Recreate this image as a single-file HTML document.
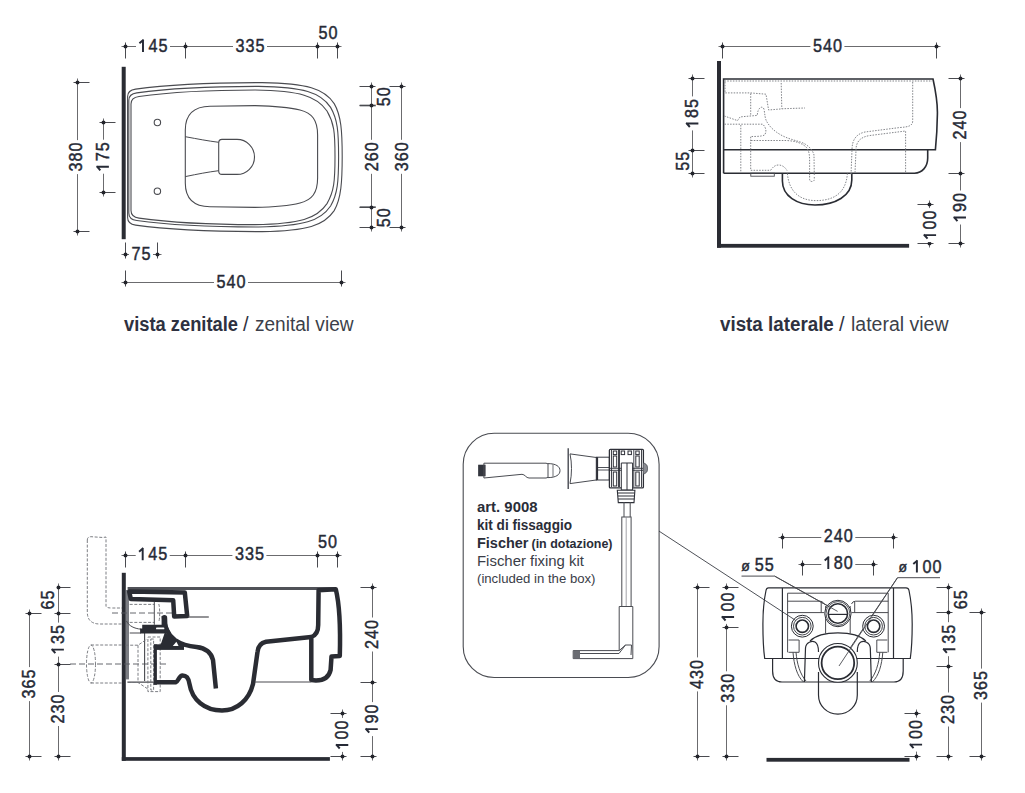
<!DOCTYPE html>
<html><head><meta charset="utf-8"><style>
html,body{margin:0;padding:0;background:#fff;}
svg{display:block;}
.n{font-family:"Liberation Sans",sans-serif;fill:#262a36;stroke:#262a36;stroke-width:0.45px;}
.n2{font-family:"Liberation Sans",sans-serif;fill:#262a36;stroke:#262a36;stroke-width:0.4px;}
.cap{font-family:"Liberation Sans",sans-serif;fill:#2e3140;font-size:20px;}
.ins{font-family:"Liberation Sans",sans-serif;fill:#2a2d38;}
</style></head><body>
<svg width="1025" height="793" viewBox="0 0 1025 793">
<line x1="121.5" y1="46.5" x2="341.5" y2="46.5" stroke="#6b6b6e" stroke-width="1"/>
<line x1="125.5" y1="42.5" x2="125.5" y2="58.5" stroke="#4a4b50" stroke-width="1"/>
<circle cx="125.5" cy="46.5" r="1.95" fill="#23252c"/>
<line x1="185.5" y1="42.5" x2="185.5" y2="58.5" stroke="#4a4b50" stroke-width="1"/>
<circle cx="185.5" cy="46.5" r="1.95" fill="#23252c"/>
<line x1="317.5" y1="42.5" x2="317.5" y2="58.5" stroke="#4a4b50" stroke-width="1"/>
<circle cx="317.5" cy="46.5" r="1.95" fill="#23252c"/>
<line x1="337.5" y1="42.5" x2="337.5" y2="58.5" stroke="#4a4b50" stroke-width="1"/>
<circle cx="337.5" cy="46.5" r="1.95" fill="#23252c"/>
<g transform="translate(153,45.4)"><rect x="-17.0" y="-7.5" width="34.0" height="15.0" fill="#fff"/><path d="M -10.01,6.48 L -10.01,-5.91 M -9.41,-5.71 L -13.61,-2.07" stroke="#262a36" stroke-width="1.94" fill="none"/><text class="n" x="0.00" y="6.5" transform="scale(0.9,1)" text-anchor="middle" font-size="18">4</text><text class="n" x="11.12" y="6.5" transform="scale(0.9,1)" text-anchor="middle" font-size="18">5</text></g>
<g transform="translate(250,45.4)"><rect x="-17.0" y="-7.5" width="34.0" height="15.0" fill="#fff"/><text class="n" x="-11.12" y="6.5" transform="scale(0.9,1)" text-anchor="middle" font-size="18">3</text><text class="n" x="0.00" y="6.5" transform="scale(0.9,1)" text-anchor="middle" font-size="18">3</text><text class="n" x="11.12" y="6.5" transform="scale(0.9,1)" text-anchor="middle" font-size="18">5</text></g>
<g transform="translate(328.1,32.3)"><text class="n" x="-5.56" y="6.5" transform="scale(0.9,1)" text-anchor="middle" font-size="18">5</text><text class="n" x="5.56" y="6.5" transform="scale(0.9,1)" text-anchor="middle" font-size="18">0</text></g>
<rect x="121.7" y="66.8" width="4" height="172.4" fill="#2a2c33"/>
<line x1="77.5" y1="78.5" x2="77.5" y2="235.5" stroke="#6b6b6e" stroke-width="1"/>
<line x1="73.5" y1="82.5" x2="89.5" y2="82.5" stroke="#4a4b50" stroke-width="1"/>
<circle cx="77.5" cy="82.5" r="1.95" fill="#23252c"/>
<line x1="73.5" y1="231.5" x2="89.5" y2="231.5" stroke="#4a4b50" stroke-width="1"/>
<circle cx="77.5" cy="231.5" r="1.95" fill="#23252c"/>
<g transform="translate(75.8,157.1) rotate(-90)"><rect x="-17.0" y="-7.5" width="34.0" height="15.0" fill="#fff"/><text class="n" x="-11.12" y="6.5" transform="scale(0.9,1)" text-anchor="middle" font-size="18">3</text><text class="n" x="0.00" y="6.5" transform="scale(0.9,1)" text-anchor="middle" font-size="18">8</text><text class="n" x="11.12" y="6.5" transform="scale(0.9,1)" text-anchor="middle" font-size="18">0</text></g>
<line x1="103.5" y1="118.5" x2="103.5" y2="196.5" stroke="#6b6b6e" stroke-width="1"/>
<line x1="99.5" y1="122.5" x2="115.5" y2="122.5" stroke="#4a4b50" stroke-width="1"/>
<circle cx="103.5" cy="122.5" r="1.95" fill="#23252c"/>
<line x1="99.5" y1="192.5" x2="115.5" y2="192.5" stroke="#4a4b50" stroke-width="1"/>
<circle cx="103.5" cy="192.5" r="1.95" fill="#23252c"/>
<g transform="translate(102.4,156.7) rotate(-90)"><rect x="-17.0" y="-7.5" width="34.0" height="15.0" fill="#fff"/><path d="M -10.01,6.48 L -10.01,-5.91 M -9.41,-5.71 L -13.61,-2.07" stroke="#262a36" stroke-width="1.94" fill="none"/><text class="n" x="0.00" y="6.5" transform="scale(0.9,1)" text-anchor="middle" font-size="18">7</text><text class="n" x="11.12" y="6.5" transform="scale(0.9,1)" text-anchor="middle" font-size="18">5</text></g>
<line x1="121.5" y1="254.5" x2="161.5" y2="254.5" stroke="#6b6b6e" stroke-width="1"/>
<line x1="125.5" y1="242.5" x2="125.5" y2="258.5" stroke="#4a4b50" stroke-width="1"/>
<circle cx="125.5" cy="254.5" r="1.95" fill="#23252c"/>
<line x1="157.5" y1="242.5" x2="157.5" y2="258.5" stroke="#4a4b50" stroke-width="1"/>
<circle cx="157.5" cy="254.5" r="1.95" fill="#23252c"/>
<g transform="translate(141,253.2)"><rect x="-12.0" y="-7.5" width="24.0" height="15.0" fill="#fff"/><text class="n" x="-5.56" y="6.5" transform="scale(0.9,1)" text-anchor="middle" font-size="18">7</text><text class="n" x="5.56" y="6.5" transform="scale(0.9,1)" text-anchor="middle" font-size="18">5</text></g>
<line x1="121.5" y1="282.5" x2="345.5" y2="282.5" stroke="#6b6b6e" stroke-width="1"/>
<line x1="125.5" y1="270.5" x2="125.5" y2="286.5" stroke="#4a4b50" stroke-width="1"/>
<circle cx="125.5" cy="282.5" r="1.95" fill="#23252c"/>
<line x1="341.5" y1="270.5" x2="341.5" y2="286.5" stroke="#4a4b50" stroke-width="1"/>
<circle cx="341.5" cy="282.5" r="1.95" fill="#23252c"/>
<g transform="translate(231,281.4)"><rect x="-17.0" y="-7.5" width="34.0" height="15.0" fill="#fff"/><text class="n" x="-11.12" y="6.5" transform="scale(0.9,1)" text-anchor="middle" font-size="18">5</text><text class="n" x="0.00" y="6.5" transform="scale(0.9,1)" text-anchor="middle" font-size="18">4</text><text class="n" x="11.12" y="6.5" transform="scale(0.9,1)" text-anchor="middle" font-size="18">0</text></g>
<path d="M 359.7,105.4 L 375.8,105.4 M 359.7,207.1 L 375.8,207.1" stroke="#8a8c90" stroke-width="2"/>
<line x1="371.5" y1="82.5" x2="371.5" y2="231.5" stroke="#6b6b6e" stroke-width="1"/>
<line x1="359.5" y1="86.5" x2="375.5" y2="86.5" stroke="#4a4b50" stroke-width="1"/>
<circle cx="371.5" cy="86.5" r="1.95" fill="#23252c"/>
<line x1="359.5" y1="105.5" x2="375.5" y2="105.5" stroke="#4a4b50" stroke-width="1"/>
<circle cx="371.5" cy="105.5" r="1.95" fill="#23252c"/>
<line x1="359.5" y1="207.5" x2="375.5" y2="207.5" stroke="#4a4b50" stroke-width="1"/>
<circle cx="371.5" cy="207.5" r="1.95" fill="#23252c"/>
<line x1="359.5" y1="227.5" x2="375.5" y2="227.5" stroke="#4a4b50" stroke-width="1"/>
<circle cx="371.5" cy="227.5" r="1.95" fill="#23252c"/>
<line x1="401.5" y1="82.5" x2="401.5" y2="231.5" stroke="#6b6b6e" stroke-width="1"/>
<line x1="389.5" y1="86.5" x2="405.5" y2="86.5" stroke="#4a4b50" stroke-width="1"/>
<circle cx="401.5" cy="86.5" r="1.95" fill="#23252c"/>
<line x1="389.5" y1="227.5" x2="405.5" y2="227.5" stroke="#4a4b50" stroke-width="1"/>
<circle cx="401.5" cy="227.5" r="1.95" fill="#23252c"/>
<g transform="translate(383.8,96.8) rotate(-90)"><text class="n" x="-5.56" y="6.5" transform="scale(0.9,1)" text-anchor="middle" font-size="18">5</text><text class="n" x="5.56" y="6.5" transform="scale(0.9,1)" text-anchor="middle" font-size="18">0</text></g>
<g transform="translate(383.8,217.8) rotate(-90)"><text class="n" x="-5.56" y="6.5" transform="scale(0.9,1)" text-anchor="middle" font-size="18">5</text><text class="n" x="5.56" y="6.5" transform="scale(0.9,1)" text-anchor="middle" font-size="18">0</text></g>
<g transform="translate(371.8,156.8) rotate(-90)"><rect x="-17.0" y="-7.5" width="34.0" height="15.0" fill="#fff"/><text class="n" x="-11.12" y="6.5" transform="scale(0.9,1)" text-anchor="middle" font-size="18">2</text><text class="n" x="0.00" y="6.5" transform="scale(0.9,1)" text-anchor="middle" font-size="18">6</text><text class="n" x="11.12" y="6.5" transform="scale(0.9,1)" text-anchor="middle" font-size="18">0</text></g>
<g transform="translate(401.4,156.8) rotate(-90)"><rect x="-17.0" y="-7.5" width="34.0" height="15.0" fill="#fff"/><text class="n" x="-11.12" y="6.5" transform="scale(0.9,1)" text-anchor="middle" font-size="18">3</text><text class="n" x="0.00" y="6.5" transform="scale(0.9,1)" text-anchor="middle" font-size="18">6</text><text class="n" x="11.12" y="6.5" transform="scale(0.9,1)" text-anchor="middle" font-size="18">0</text></g>
<path d="M 127.6,156.5 L 127.6,96.6 Q 127.6,90.1 135.6,89.1 C 167.6,84.6 207.6,82.6 262.2,82.6 C 307.2,83.39999999999999 324.2,88.6 334.2,103.6 C 341.2,115.6 342.2,131.5 342.2,156.5 C 342.2,181.5 341.2,198.6 334.2,210.6 C 324.2,225.6 307.2,230.79999999999998 262.2,231.6 C 207.6,231.6 167.6,229.6 135.6,225.1 Q 127.6,224.1 127.6,217.6 Z" fill="none" stroke="#4a4b50" stroke-width="1.1"/>
<path d="M 128.8,156.5 L 128.8,100.4 Q 128.8,93.9 136.8,92.9 C 168.8,88.4 208.8,86.4 258.6,86.4 C 303.6,87.2 320.6,92.4 330.6,107.4 C 337.6,119.4 338.6,131.5 338.6,156.5 C 338.6,181.5 337.6,194.0 330.6,206.0 C 320.6,221.0 303.6,226.2 258.6,227.0 C 208.8,227.0 168.8,225.0 136.8,220.5 Q 128.8,219.5 128.8,213.0 Z" fill="none" stroke="#4a4b50" stroke-width="1.1"/>
<path d="M 131.0,156.5 L 131.0,104.0 Q 131.0,97.5 139.0,96.5 C 171.0,92.0 211.0,90.0 255.0,90.0 C 300.0,90.8 317.0,96.0 327.0,111.0 C 334.0,123.0 335.0,131.5 335.0,156.5 C 335.0,181.5 334.0,191.6 327.0,203.6 C 317.0,218.6 300.0,223.79999999999998 255.0,224.6 C 211.0,224.6 171.0,222.6 139.0,218.1 Q 131.0,217.1 131.0,210.6 Z" fill="none" stroke="#4a4b50" stroke-width="1.1"/>
<path d="M 185.3,130 C 185.3,114 194,106.5 210,106.2 L 255,105.6 C 275,106 290,107.5 300,110 C 312,113 317.6,120 317.6,135 L 317.6,178 C 317.6,193 312,200 300,203 C 290,205.5 275,207 255,207.4 L 210,206.8 C 194,206.5 185.3,199 185.3,183 Z" fill="none" stroke="#4a4b50" stroke-width="1.1"/>
<path d="M 222,139.4 L 237,139.4 A 17.5 17.5 0 0 1 237,174.4 L 222,174.4 Q 218.7,174.4 218.7,171 L 218.7,143 Q 218.7,139.4 222,139.4 Z" fill="none" stroke="#4a4b50" stroke-width="1.1"/>
<path d="M 185.3,136.7 C 198,139 208,141 218.7,142.3 M 185.3,176.6 C 198,174 208,172 218.7,170.7" fill="none" stroke="#4a4b50" stroke-width="1"/>
<circle cx="157.4" cy="122.5" r="3.2" fill="none" stroke="#4a4b50" stroke-width="1.1"/>
<circle cx="157.4" cy="191.2" r="3.2" fill="none" stroke="#4a4b50" stroke-width="1.1"/>
<text x="124" y="331" class="cap" font-weight="bold" textLength="114" lengthAdjust="spacingAndGlyphs">vista zenitale</text>
<text x="243" y="331" class="cap">/</text>
<text x="255" y="331" class="cap" style="fill:#3c3f4a" textLength="98.5" lengthAdjust="spacingAndGlyphs">zenital view</text>
<text x="720" y="331" class="cap" font-weight="bold" textLength="113.8" lengthAdjust="spacingAndGlyphs">vista laterale</text>
<text x="839" y="331" class="cap">/</text>
<text x="851" y="331" class="cap" style="fill:#3c3f4a" textLength="97.5" lengthAdjust="spacingAndGlyphs">lateral view</text>
<line x1="718.5" y1="46.5" x2="940.5" y2="46.5" stroke="#6b6b6e" stroke-width="1"/>
<line x1="722.5" y1="42.5" x2="722.5" y2="58.5" stroke="#4a4b50" stroke-width="1"/>
<circle cx="722.5" cy="46.5" r="1.95" fill="#23252c"/>
<line x1="936.5" y1="42.5" x2="936.5" y2="58.5" stroke="#4a4b50" stroke-width="1"/>
<circle cx="936.5" cy="46.5" r="1.95" fill="#23252c"/>
<g transform="translate(827.4,45.6)"><rect x="-17.0" y="-7.5" width="34.0" height="15.0" fill="#fff"/><text class="n" x="-11.12" y="6.5" transform="scale(0.9,1)" text-anchor="middle" font-size="18">5</text><text class="n" x="0.00" y="6.5" transform="scale(0.9,1)" text-anchor="middle" font-size="18">4</text><text class="n" x="11.12" y="6.5" transform="scale(0.9,1)" text-anchor="middle" font-size="18">0</text></g>
<rect x="717" y="61" width="4" height="186.7" fill="#2a2c33"/>
<rect x="717" y="243.9" width="192.1" height="3.8" fill="#2a2c33"/>
<line x1="692.5" y1="74.5" x2="692.5" y2="177.5" stroke="#6b6b6e" stroke-width="1"/>
<line x1="688.5" y1="78.5" x2="704.5" y2="78.5" stroke="#4a4b50" stroke-width="1"/>
<circle cx="692.5" cy="78.5" r="1.95" fill="#23252c"/>
<line x1="688.5" y1="150.5" x2="704.5" y2="150.5" stroke="#4a4b50" stroke-width="1"/>
<circle cx="692.5" cy="150.5" r="1.95" fill="#23252c"/>
<line x1="688.5" y1="173.5" x2="704.5" y2="173.5" stroke="#4a4b50" stroke-width="1"/>
<circle cx="692.5" cy="173.5" r="1.95" fill="#23252c"/>
<g transform="translate(691.9,113.4) rotate(-90)"><rect x="-17.0" y="-7.5" width="34.0" height="15.0" fill="#fff"/><path d="M -10.01,6.48 L -10.01,-5.91 M -9.41,-5.71 L -13.61,-2.07" stroke="#262a36" stroke-width="1.94" fill="none"/><text class="n" x="0.00" y="6.5" transform="scale(0.9,1)" text-anchor="middle" font-size="18">8</text><text class="n" x="11.12" y="6.5" transform="scale(0.9,1)" text-anchor="middle" font-size="18">5</text></g>
<g transform="translate(682.5,161.3) rotate(-90)"><text class="n" x="-5.56" y="6.5" transform="scale(0.9,1)" text-anchor="middle" font-size="18">5</text><text class="n" x="5.56" y="6.5" transform="scale(0.9,1)" text-anchor="middle" font-size="18">5</text></g>
<line x1="960.5" y1="74.5" x2="960.5" y2="247.5" stroke="#6b6b6e" stroke-width="1"/>
<line x1="948.5" y1="78.5" x2="964.5" y2="78.5" stroke="#4a4b50" stroke-width="1"/>
<circle cx="960.5" cy="78.5" r="1.95" fill="#23252c"/>
<line x1="948.5" y1="173.5" x2="964.5" y2="173.5" stroke="#4a4b50" stroke-width="1"/>
<circle cx="960.5" cy="173.5" r="1.95" fill="#23252c"/>
<line x1="948.5" y1="243.5" x2="964.5" y2="243.5" stroke="#4a4b50" stroke-width="1"/>
<circle cx="960.5" cy="243.5" r="1.95" fill="#23252c"/>
<g transform="translate(959.5,125.1) rotate(-90)"><rect x="-17.0" y="-7.5" width="34.0" height="15.0" fill="#fff"/><text class="n" x="-11.12" y="6.5" transform="scale(0.9,1)" text-anchor="middle" font-size="18">2</text><text class="n" x="0.00" y="6.5" transform="scale(0.9,1)" text-anchor="middle" font-size="18">4</text><text class="n" x="11.12" y="6.5" transform="scale(0.9,1)" text-anchor="middle" font-size="18">0</text></g>
<g transform="translate(959.5,207.5) rotate(-90)"><rect x="-17.0" y="-7.5" width="34.0" height="15.0" fill="#fff"/><path d="M -10.01,6.48 L -10.01,-5.91 M -9.41,-5.71 L -13.61,-2.07" stroke="#262a36" stroke-width="1.94" fill="none"/><text class="n" x="0.00" y="6.5" transform="scale(0.9,1)" text-anchor="middle" font-size="18">9</text><text class="n" x="11.12" y="6.5" transform="scale(0.9,1)" text-anchor="middle" font-size="18">0</text></g>
<line x1="929.5" y1="200.5" x2="929.5" y2="247.5" stroke="#6b6b6e" stroke-width="1"/>
<line x1="917.5" y1="204.5" x2="933.5" y2="204.5" stroke="#4a4b50" stroke-width="1"/>
<circle cx="929.5" cy="204.5" r="1.95" fill="#23252c"/>
<line x1="917.5" y1="243.5" x2="933.5" y2="243.5" stroke="#4a4b50" stroke-width="1"/>
<circle cx="929.5" cy="243.5" r="1.95" fill="#23252c"/>
<g transform="translate(929.6,225.1) rotate(-90)"><rect x="-17.0" y="-7.5" width="34.0" height="15.0" fill="#fff"/><path d="M -10.01,6.48 L -10.01,-5.91 M -9.41,-5.71 L -13.61,-2.07" stroke="#262a36" stroke-width="1.94" fill="none"/><text class="n" x="0.00" y="6.5" transform="scale(0.9,1)" text-anchor="middle" font-size="18">0</text><text class="n" x="11.12" y="6.5" transform="scale(0.9,1)" text-anchor="middle" font-size="18">0</text></g>
<path d="M 723.6,173.2 L 723.6,79 L 933,79 C 936.5,95 937.6,105 937.4,114 C 937.2,128 936.4,140 935.4,149.8 L 723.6,149.8" fill="none" stroke="#2a2c33" stroke-width="1.6"/>
<path d="M 927.7,149.8 L 927.7,158 C 927.7,167 922,173 914.5,173.2 L 723.6,173.2" fill="none" stroke="#2a2c33" stroke-width="1.6"/>
<path d="M 782.4,173.2 L 782.4,181 C 782.4,196 797,205 815,205 C 835,205 851.8,196 851.8,180 L 851.8,173.2" fill="none" stroke="#2a2c33" stroke-width="1.6"/>
<rect x="750.8" y="173.2" width="23.5" height="3" fill="none" stroke="#4a4b50" stroke-width="0.9"/>
<path d="M 724.5,81 L 932,81" fill="none" stroke="#7c7e84" stroke-width="0.95" stroke-dasharray="1.5 1.3"/>
<path d="M 725,82 L 725,92.9 L 750.2,92.9 L 766,94.2 L 768.6,110 L 783.8,108.7 L 805,108" fill="none" stroke="#7c7e84" stroke-width="0.95" stroke-dasharray="1.5 1.3"/>
<path d="M 781.2,83 L 781.8,108.7" fill="none" stroke="#7c7e84" stroke-width="0.95" stroke-dasharray="1.5 1.3"/>
<path d="M 750.7,93.5 L 750.7,115.4" fill="none" stroke="#7c7e84" stroke-width="0.95" stroke-dasharray="1.5 1.3"/>
<path d="M 724.3,116 L 737.5,120.6 L 740.1,116.9 L 757.3,115.4 C 757.5,108 762,105 764,109 C 765,115 765,119 767,122 C 770,127 774,131 781,135 C 790,140 800,141 805,144 C 810,147 813,151 814,155 L 814.3,176" fill="none" stroke="#7c7e84" stroke-width="0.95" stroke-dasharray="1.5 1.3"/>
<path d="M 724.5,124.2 L 762.6,124.2 C 766,127 767,132 764.5,135 C 762,136.5 755,136.5 750.7,136.5 L 750.7,170.3 L 770.6,170.3 C 773,167 775,165 778.5,165 C 782,165 785,167 787,170.5" fill="none" stroke="#7c7e84" stroke-width="0.95" stroke-dasharray="1.5 1.3"/>
<path d="M 740.8,125 L 740.8,171.6" fill="none" stroke="#7c7e84" stroke-width="0.95" stroke-dasharray="1.5 1.3"/>
<path d="M 751,140.5 L 786.5,140.5 C 795,141 802,143 806,147 C 809,150 809.6,155 809.6,160 L 809.6,176" fill="none" stroke="#7c7e84" stroke-width="0.95" stroke-dasharray="1.5 1.3"/>
<path d="M 912.7,82 L 912.7,121 C 912.7,126 908,127 900,127.5 L 865,132 C 856,134 852,140 852,150 L 851,175" fill="none" stroke="#7c7e84" stroke-width="0.95" stroke-dasharray="1.5 1.3"/>
<path d="M 905.6,172 L 905.6,131 L 870,135.5 C 860,137 856,142 856,150 L 855,173" fill="none" stroke="#7c7e84" stroke-width="0.95" stroke-dasharray="1.5 1.3"/>
<path d="M 787.4,173.5 C 789,192 800,200.6 816,200.6 C 834,200.6 846,193 847.4,173.5" fill="none" stroke="#7c7e84" stroke-width="0.95" stroke-dasharray="1.5 1.3"/>
<path d="M 809.6,176 L 809.6,179 Q 809.6,181.5 812,181.5 Q 814.3,181.5 814.3,179 L 814.3,176" fill="none" stroke="#7c7e84" stroke-width="0.95" stroke-dasharray="1.5 1.3"/>
<line x1="121.5" y1="555.5" x2="341.5" y2="555.5" stroke="#6b6b6e" stroke-width="1"/>
<line x1="125.5" y1="551.5" x2="125.5" y2="567.5" stroke="#4a4b50" stroke-width="1"/>
<circle cx="125.5" cy="555.5" r="1.95" fill="#23252c"/>
<line x1="185.5" y1="551.5" x2="185.5" y2="567.5" stroke="#4a4b50" stroke-width="1"/>
<circle cx="185.5" cy="555.5" r="1.95" fill="#23252c"/>
<line x1="317.5" y1="551.5" x2="317.5" y2="567.5" stroke="#4a4b50" stroke-width="1"/>
<circle cx="317.5" cy="555.5" r="1.95" fill="#23252c"/>
<line x1="337.5" y1="551.5" x2="337.5" y2="567.5" stroke="#4a4b50" stroke-width="1"/>
<circle cx="337.5" cy="555.5" r="1.95" fill="#23252c"/>
<g transform="translate(152.7,553.8)"><rect x="-17.0" y="-7.5" width="34.0" height="15.0" fill="#fff"/><path d="M -10.01,6.48 L -10.01,-5.91 M -9.41,-5.71 L -13.61,-2.07" stroke="#262a36" stroke-width="1.94" fill="none"/><text class="n" x="0.00" y="6.5" transform="scale(0.9,1)" text-anchor="middle" font-size="18">4</text><text class="n" x="11.12" y="6.5" transform="scale(0.9,1)" text-anchor="middle" font-size="18">5</text></g>
<g transform="translate(249.4,553.8)"><rect x="-17.0" y="-7.5" width="34.0" height="15.0" fill="#fff"/><text class="n" x="-11.12" y="6.5" transform="scale(0.9,1)" text-anchor="middle" font-size="18">3</text><text class="n" x="0.00" y="6.5" transform="scale(0.9,1)" text-anchor="middle" font-size="18">3</text><text class="n" x="11.12" y="6.5" transform="scale(0.9,1)" text-anchor="middle" font-size="18">5</text></g>
<g transform="translate(327.4,541.3)"><text class="n" x="-5.56" y="6.5" transform="scale(0.9,1)" text-anchor="middle" font-size="18">5</text><text class="n" x="5.56" y="6.5" transform="scale(0.9,1)" text-anchor="middle" font-size="18">0</text></g>
<rect x="121.8" y="572.8" width="4" height="188" fill="#2a2c33"/>
<rect x="121.8" y="757.1" width="208.1" height="3.7" fill="#2a2c33"/>
<rect x="126" y="590" width="3" height="89.4" fill="#7a7c82"/>
<line x1="372.5" y1="583.5" x2="372.5" y2="760.5" stroke="#6b6b6e" stroke-width="1"/>
<line x1="360.5" y1="587.5" x2="376.5" y2="587.5" stroke="#4a4b50" stroke-width="1"/>
<circle cx="372.5" cy="587.5" r="1.95" fill="#23252c"/>
<line x1="360.5" y1="682.5" x2="376.5" y2="682.5" stroke="#4a4b50" stroke-width="1"/>
<circle cx="372.5" cy="682.5" r="1.95" fill="#23252c"/>
<line x1="360.5" y1="756.5" x2="376.5" y2="756.5" stroke="#4a4b50" stroke-width="1"/>
<circle cx="372.5" cy="756.5" r="1.95" fill="#23252c"/>
<g transform="translate(371.1,634.5) rotate(-90)"><rect x="-17.0" y="-7.5" width="34.0" height="15.0" fill="#fff"/><text class="n" x="-11.12" y="6.5" transform="scale(0.9,1)" text-anchor="middle" font-size="18">2</text><text class="n" x="0.00" y="6.5" transform="scale(0.9,1)" text-anchor="middle" font-size="18">4</text><text class="n" x="11.12" y="6.5" transform="scale(0.9,1)" text-anchor="middle" font-size="18">0</text></g>
<g transform="translate(371.3,719.1) rotate(-90)"><rect x="-17.0" y="-7.5" width="34.0" height="15.0" fill="#fff"/><path d="M -10.01,6.48 L -10.01,-5.91 M -9.41,-5.71 L -13.61,-2.07" stroke="#262a36" stroke-width="1.94" fill="none"/><text class="n" x="0.00" y="6.5" transform="scale(0.9,1)" text-anchor="middle" font-size="18">9</text><text class="n" x="11.12" y="6.5" transform="scale(0.9,1)" text-anchor="middle" font-size="18">0</text></g>
<line x1="342.5" y1="709.5" x2="342.5" y2="760.5" stroke="#6b6b6e" stroke-width="1"/>
<line x1="330.5" y1="713.5" x2="346.5" y2="713.5" stroke="#4a4b50" stroke-width="1"/>
<circle cx="342.5" cy="713.5" r="1.95" fill="#23252c"/>
<line x1="330.5" y1="756.5" x2="346.5" y2="756.5" stroke="#4a4b50" stroke-width="1"/>
<circle cx="342.5" cy="756.5" r="1.95" fill="#23252c"/>
<g transform="translate(341.8,734.9) rotate(-90)"><rect x="-17.0" y="-7.5" width="34.0" height="15.0" fill="#fff"/><path d="M -10.01,6.48 L -10.01,-5.91 M -9.41,-5.71 L -13.61,-2.07" stroke="#262a36" stroke-width="1.94" fill="none"/><text class="n" x="0.00" y="6.5" transform="scale(0.9,1)" text-anchor="middle" font-size="18">0</text><text class="n" x="11.12" y="6.5" transform="scale(0.9,1)" text-anchor="middle" font-size="18">0</text></g>
<line x1="29.5" y1="609.5" x2="29.5" y2="760.5" stroke="#6b6b6e" stroke-width="1"/>
<line x1="25.5" y1="613.5" x2="41.5" y2="613.5" stroke="#4a4b50" stroke-width="1"/>
<circle cx="29.5" cy="613.5" r="1.95" fill="#23252c"/>
<line x1="25.5" y1="756.5" x2="41.5" y2="756.5" stroke="#4a4b50" stroke-width="1"/>
<circle cx="29.5" cy="756.5" r="1.95" fill="#23252c"/>
<g transform="translate(28,684.1) rotate(-90)"><rect x="-17.0" y="-7.5" width="34.0" height="15.0" fill="#fff"/><text class="n" x="-11.12" y="6.5" transform="scale(0.9,1)" text-anchor="middle" font-size="18">3</text><text class="n" x="0.00" y="6.5" transform="scale(0.9,1)" text-anchor="middle" font-size="18">6</text><text class="n" x="11.12" y="6.5" transform="scale(0.9,1)" text-anchor="middle" font-size="18">5</text></g>
<line x1="58.5" y1="583.5" x2="58.5" y2="760.5" stroke="#6b6b6e" stroke-width="1"/>
<line x1="58.5" y1="587.5" x2="70.5" y2="587.5" stroke="#4a4b50" stroke-width="1"/>
<circle cx="58.5" cy="587.5" r="1.95" fill="#23252c"/>
<line x1="54.5" y1="613.5" x2="70.5" y2="613.5" stroke="#4a4b50" stroke-width="1"/>
<circle cx="58.5" cy="613.5" r="1.95" fill="#23252c"/>
<line x1="54.5" y1="664.5" x2="70.5" y2="664.5" stroke="#4a4b50" stroke-width="1"/>
<circle cx="58.5" cy="664.5" r="1.95" fill="#23252c"/>
<line x1="54.5" y1="756.5" x2="70.5" y2="756.5" stroke="#4a4b50" stroke-width="1"/>
<circle cx="58.5" cy="756.5" r="1.95" fill="#23252c"/>
<g transform="translate(47,599.9) rotate(-90)"><text class="n" x="-5.56" y="6.5" transform="scale(0.9,1)" text-anchor="middle" font-size="18">6</text><text class="n" x="5.56" y="6.5" transform="scale(0.9,1)" text-anchor="middle" font-size="18">5</text></g>
<g transform="translate(57.4,639.6) rotate(-90)"><rect x="-17.0" y="-7.5" width="34.0" height="15.0" fill="#fff"/><path d="M -10.01,6.48 L -10.01,-5.91 M -9.41,-5.71 L -13.61,-2.07" stroke="#262a36" stroke-width="1.94" fill="none"/><text class="n" x="0.00" y="6.5" transform="scale(0.9,1)" text-anchor="middle" font-size="18">3</text><text class="n" x="11.12" y="6.5" transform="scale(0.9,1)" text-anchor="middle" font-size="18">5</text></g>
<g transform="translate(57.6,709) rotate(-90)"><rect x="-17.0" y="-7.5" width="34.0" height="15.0" fill="#fff"/><text class="n" x="-11.12" y="6.5" transform="scale(0.9,1)" text-anchor="middle" font-size="18">2</text><text class="n" x="0.00" y="6.5" transform="scale(0.9,1)" text-anchor="middle" font-size="18">3</text><text class="n" x="11.12" y="6.5" transform="scale(0.9,1)" text-anchor="middle" font-size="18">0</text></g>
<path d="M 87.3,540 Q 87.3,536.7 91,536.7 L 103,537.5 L 106,537 L 106,606 Q 106,608 112,608 L 122,608 M 87.3,540 L 87.3,612 Q 87.3,624 100,624 L 122,624" fill="none" stroke="#6e7076" stroke-width="0.9" stroke-dasharray="3 1.6"/>
<path d="M 91,645 L 122,645 M 91,683 L 122,683" fill="none" stroke="#6e7076" stroke-width="0.9" stroke-dasharray="3 1.6"/>
<ellipse cx="91" cy="664" rx="4.5" ry="19" fill="none" stroke="#6e7076" stroke-width="0.9" stroke-dasharray="3 1.6"/>
<path d="M 70,664 L 168,664" fill="none" stroke="#55585f" stroke-width="0.9" stroke-dasharray="6 3"/>
<path d="M 112,613 L 174,613" fill="none" stroke="#55585f" stroke-width="0.9" stroke-dasharray="6 3"/>
<path d="M 129.7,604.4 L 154.3,604.4 M 129.7,622.4 L 154.3,622.4 M 158.8,604 C 160,608 160,618 158.8,622" fill="none" stroke="#6e7076" stroke-width="0.9" stroke-dasharray="3 1.6"/>
<path d="M 154.3,602 L 154.3,624.8" stroke="#4a4b50" stroke-width="1"/>
<path d="M 126.5,621 C 129,626 134,628.5 141,629.2" fill="none" stroke="#4a4b50" stroke-width="1"/>
<path d="M 129.7,633 L 141,633 M 144.6,633 L 144.6,681 M 127.4,682.1 L 154,682.1" fill="none" stroke="#4a4b50" stroke-width="1.1"/>
<path d="M 147.9,637 L 160.2,637 L 160.2,691.6 L 147.9,691.6 Z M 150.8,639 L 153.6,639 L 153.6,690 L 150.8,690 Z" fill="none" stroke="#6e7076" stroke-width="0.9" stroke-dasharray="3 1.6"/>
<path d="M 125.6,645.2 L 138,645.2 L 147,639.1 M 138,645.2 L 138,682.5 M 128,682.5 L 138,682.5 L 148.7,689.5" fill="none" stroke="#6e7076" stroke-width="0.9" stroke-dasharray="3 1.6"/>
<line x1="127.6" y1="588.6" x2="336" y2="588.6" stroke="#505258" stroke-width="3"/>
<path d="M 129.2,591.6 L 184.8,592.4 L 187.2,616 L 174.2,616.6 L 173.2,600.2 L 130.8,599 Z" fill="none" stroke="#2a2c33" stroke-width="4.5" stroke-linejoin="round"/>
<line x1="188" y1="617" x2="208.8" y2="617" stroke="#4a4b50" stroke-width="1.2"/>
<path d="M 318.6,590.3 L 335.8,589.2 C 338.5,600 340.8,620 339.8,656 L 331.5,656.5 L 330.6,670 C 329,677 324,680.5 316,680.5 L 311.3,680 L 311.3,637 C 315.5,635.5 318.2,632 318.2,625 Z" fill="none" stroke="#2a2c33" stroke-width="4.5" stroke-linejoin="round"/>
<path d="M 311.2,637 L 266,641.8 C 260,643 258,647 257.5,652 L 253,684 C 249,700 237,710.6 222,710.6 C 205,710.6 192,700 189.5,684 C 188.5,677 186,675.5 182.5,675.5 C 179,675.5 178,682 176,682.2 L 154,682.2" fill="none" stroke="#2a2c33" stroke-width="4.5" stroke-linejoin="round"/>
<path d="M 163.8,616 C 164.2,626 168,635 175,640 C 181,644 188,646.3 196.5,647 C 205,648 211,652 213,660 L 215.9,688.5" fill="none" stroke="#2a2c33" stroke-width="4.5" stroke-linejoin="round"/>
<path d="M 155.3,644.5 L 155.3,684.8" stroke="#2a2c33" stroke-width="3.2"/>
<path d="M 154,647.1 L 184,647.1" stroke="#2a2c33" stroke-width="5.6"/>
<path d="M 142.2,624.8 L 161.6,624.8 L 161.6,617.8 Q 161.6,615.1 164.4,615.1 Q 167.2,615.1 167.2,617.8 L 167.5,626 L 171,633.6 L 140.1,633.6 L 140.1,628.5 L 142.2,628.5 Z" fill="#2a2c33"/>
<rect x="156" y="627.5" width="8.4" height="1.8" rx="0.9" fill="#fff"/>
<path d="M 165,632 L 176,641 L 186,645 L 186,646.5 L 160,646.5 Z" fill="#2a2c33"/>
<path d="M 172.8,645.9 L 178.6,645.9 L 176.4,641.8 Z" fill="#fff"/>
<line x1="254.7" y1="682" x2="311.2" y2="682" stroke="#4a4b50" stroke-width="1.2"/>
<rect x="463.2" y="433.2" width="195.9" height="244.3" rx="31" fill="none" stroke="#4a4c52" stroke-width="1.1"/>
<text x="477" y="511.7" class="ins" font-weight="bold" font-size="13.8" textLength="60.5" lengthAdjust="spacingAndGlyphs">art. 9008</text>
<text x="477" y="529.8" class="ins" font-weight="bold" font-size="13.8" textLength="95" lengthAdjust="spacingAndGlyphs">kit di fissaggio</text>
<text x="477" y="548.2" class="ins" font-weight="bold" font-size="13.8" textLength="51.5" lengthAdjust="spacingAndGlyphs">Fischer</text>
<text x="531.5" y="548.2" class="ins" font-weight="bold" font-size="12.6" textLength="81" lengthAdjust="spacingAndGlyphs">(in dotazione)</text>
<text x="477" y="566.4" class="ins" font-size="14" style="fill:#3a3d47" textLength="107" lengthAdjust="spacingAndGlyphs">Fischer fixing kit</text>
<text x="477" y="583" class="ins" font-size="13.2" style="fill:#3a3d47" textLength="118.5" lengthAdjust="spacingAndGlyphs">(included in the box)</text>
<rect x="478.2" y="464.7" width="7.4" height="11.6" fill="#3a3c44"/>
<path d="M 479,465 L 479,476 M 481,465 L 481,476 M 483,465 L 483,476" stroke="#2a2c33" stroke-width="0.7"/>
<path d="M 483.9,463.2 L 546,463.2 L 548,463.8 L 548,477.4 L 546,478 L 529,478 C 526,478 525,474.3 522,474.3 L 483.9,478 Z" fill="none" stroke="#4a4c52" stroke-width="1"/>
<path d="M 548,463.6 C 556,463.6 560,466.5 560,470.6 C 560,474.7 556,477.6 548,477.6" fill="none" stroke="#4a4c52" stroke-width="1"/>
<path d="M 553,464.5 L 553,476.7" stroke="#4a4c52" stroke-width="0.8"/>
<path d="M 568.2,448.3 L 568.2,489.1" stroke="#3a3d45" stroke-width="1.3"/>
<path d="M 570,453.9 L 597,457.6 L 597,479.9 L 570,483.6 C 572,474 572,463 570,453.9 Z" fill="none" stroke="#4a4c52" stroke-width="1"/>
<rect x="596.3" y="457.2" width="13" height="22.8" fill="none" stroke="#3a3d45" stroke-width="1"/>
<rect x="596.3" y="457.2" width="1.8" height="22.8" fill="#2e3038"/>
<path d="M 598,467.5 L 609.3,467.5 M 598,470 L 609.3,470" stroke="#3a3d45" stroke-width="0.9"/>
<rect x="609.4" y="449.3" width="34" height="38.6" rx="1" fill="none" stroke="#2e3038" stroke-width="1.3"/>
<rect x="613.3" y="451" width="3.4" height="3.6" fill="none" stroke="#2e3038" stroke-width="1"/>
<rect x="621.2" y="451" width="3.4" height="3.6" fill="none" stroke="#2e3038" stroke-width="1"/>
<rect x="628" y="451" width="3.4" height="3.6" fill="none" stroke="#2e3038" stroke-width="1"/>
<rect x="635.8" y="451" width="3.4" height="3.6" fill="none" stroke="#2e3038" stroke-width="1"/>
<rect x="613.3" y="456" width="3.4" height="11" fill="none" stroke="#2e3038" stroke-width="1"/>
<rect x="613.3" y="472" width="3.4" height="14" fill="none" stroke="#2e3038" stroke-width="1"/>
<rect x="635.8" y="456" width="3.4" height="11" fill="none" stroke="#2e3038" stroke-width="1"/>
<rect x="635.8" y="472" width="3.4" height="14" fill="none" stroke="#2e3038" stroke-width="1"/>
<path d="M 611.5,450 L 611.5,487 M 618.5,450 L 618.5,487 M 619.5,450 L 619.5,487 M 633.8,450 L 633.8,487 M 641.5,450 L 641.5,487 M 609.4,468.3 L 643.4,468.3 M 609.4,470.3 L 643.4,470.3" stroke="#2e3038" stroke-width="0.9" fill="none"/>
<path d="M 621.3,463 L 632.6,463 L 632.6,490 L 621.3,490 Z M 627,463 L 627,490" stroke="#2e3038" stroke-width="1" fill="#fff"/>
<path d="M 643.4,463 C 647,464 647.5,466 647.5,468.5 C 647.5,471 647,473 643.4,474" fill="#8a8c92" stroke="#3a3d45" stroke-width="0.8"/>
<path d="M 617.3,490.2 L 634.9,490.2 L 634,502.6 L 618.3,502.6 Z" fill="#fff" stroke="#2e3038" stroke-width="1.1"/>
<path d="M 618,493 L 634.5,493 M 618,496 L 634.5,496 M 618,499 L 634.5,499" stroke="#2e3038" stroke-width="1.1"/>
<path d="M 624,502 L 624,517 M 630.2,502 L 630.2,517" fill="none" stroke="#4a4c52" stroke-width="1"/>
<rect x="621.8" y="517" width="9.3" height="89.5" fill="none" stroke="#4a4c52" stroke-width="1"/>
<path d="M 626.2,517 L 626.2,606.5" stroke="#8a8c92" stroke-width="0.8"/>
<path d="M 619.2,606.5 L 632.8,606.5 L 632.8,658.6 L 573.2,658.6 L 573.2,650.6 L 619.2,650.6 Z" fill="none" stroke="#4a4c52" stroke-width="1"/>
<path d="M 580,653.5 L 619,653.5 L 625.5,645 L 631.5,645 L 631,655 M 619.2,650.6 L 625.5,645" fill="none" stroke="#4a4c52" stroke-width="1"/>
<rect x="573.2" y="650.6" width="6.8" height="8" fill="#6a6c72"/>
<line x1="778.5" y1="537.5" x2="897.5" y2="537.5" stroke="#6b6b6e" stroke-width="1"/>
<line x1="782.5" y1="533.5" x2="782.5" y2="548.5" stroke="#4a4b50" stroke-width="1"/>
<circle cx="782.5" cy="537.5" r="1.95" fill="#23252c"/>
<line x1="893.5" y1="533.5" x2="893.5" y2="548.5" stroke="#4a4b50" stroke-width="1"/>
<circle cx="893.5" cy="537.5" r="1.95" fill="#23252c"/>
<g transform="translate(838.3,535.7)"><rect x="-17.0" y="-7.5" width="34.0" height="15.0" fill="#fff"/><text class="n" x="-11.12" y="6.5" transform="scale(0.9,1)" text-anchor="middle" font-size="18">2</text><text class="n" x="0.00" y="6.5" transform="scale(0.9,1)" text-anchor="middle" font-size="18">4</text><text class="n" x="11.12" y="6.5" transform="scale(0.9,1)" text-anchor="middle" font-size="18">0</text></g>
<line x1="798.5" y1="564.5" x2="877.5" y2="564.5" stroke="#6b6b6e" stroke-width="1"/>
<line x1="802.5" y1="560.5" x2="802.5" y2="575.5" stroke="#4a4b50" stroke-width="1"/>
<circle cx="802.5" cy="564.5" r="1.95" fill="#23252c"/>
<line x1="873.5" y1="560.5" x2="873.5" y2="575.5" stroke="#4a4b50" stroke-width="1"/>
<circle cx="873.5" cy="564.5" r="1.95" fill="#23252c"/>
<g transform="translate(838.3,562.5)"><rect x="-17.0" y="-7.5" width="34.0" height="15.0" fill="#fff"/><path d="M -10.01,6.48 L -10.01,-5.91 M -9.41,-5.71 L -13.61,-2.07" stroke="#262a36" stroke-width="1.94" fill="none"/><text class="n" x="0.00" y="6.5" transform="scale(0.9,1)" text-anchor="middle" font-size="18">8</text><text class="n" x="11.12" y="6.5" transform="scale(0.9,1)" text-anchor="middle" font-size="18">0</text></g>
<text x="741.2" y="570.6" class="n2" font-size="14">ø</text>
<g transform="translate(764.2,564.5)"><text class="n" x="-5.56" y="6.5" transform="scale(0.9,1)" text-anchor="middle" font-size="18">5</text><text class="n" x="5.56" y="6.5" transform="scale(0.9,1)" text-anchor="middle" font-size="18">5</text></g>
<text x="898.6" y="572.4" class="n2" font-size="14">ø</text>
<g transform="translate(926.9,566.1)"><path d="M -10.01,6.48 L -10.01,-5.91 M -9.41,-5.71 L -13.61,-2.07" stroke="#262a36" stroke-width="1.94" fill="none"/><text class="n" x="0.00" y="6.5" transform="scale(0.9,1)" text-anchor="middle" font-size="18">0</text><text class="n" x="11.12" y="6.5" transform="scale(0.9,1)" text-anchor="middle" font-size="18">0</text></g>
<path d="M 741.5,576.1 L 774.6,576.1 L 837.6,611.4" fill="none" stroke="#4a4b50" stroke-width="1"/>
<path d="M 940,577.7 L 897.5,577.7 L 837.6,666.6" fill="none" stroke="#4a4b50" stroke-width="1"/>
<line x1="697.5" y1="583.5" x2="697.5" y2="760.5" stroke="#6b6b6e" stroke-width="1"/>
<line x1="693.5" y1="587.5" x2="709.5" y2="587.5" stroke="#4a4b50" stroke-width="1"/>
<circle cx="697.5" cy="587.5" r="1.95" fill="#23252c"/>
<line x1="693.5" y1="756.5" x2="709.5" y2="756.5" stroke="#4a4b50" stroke-width="1"/>
<circle cx="697.5" cy="756.5" r="1.95" fill="#23252c"/>
<g transform="translate(696.2,674.4) rotate(-90)"><rect x="-17.0" y="-7.5" width="34.0" height="15.0" fill="#fff"/><text class="n" x="-11.12" y="6.5" transform="scale(0.9,1)" text-anchor="middle" font-size="18">4</text><text class="n" x="0.00" y="6.5" transform="scale(0.9,1)" text-anchor="middle" font-size="18">3</text><text class="n" x="11.12" y="6.5" transform="scale(0.9,1)" text-anchor="middle" font-size="18">0</text></g>
<line x1="726.5" y1="583.5" x2="726.5" y2="760.5" stroke="#6b6b6e" stroke-width="1"/>
<line x1="722.5" y1="587.5" x2="738.5" y2="587.5" stroke="#4a4b50" stroke-width="1"/>
<circle cx="726.5" cy="587.5" r="1.95" fill="#23252c"/>
<line x1="722.5" y1="627.5" x2="738.5" y2="627.5" stroke="#4a4b50" stroke-width="1"/>
<circle cx="726.5" cy="627.5" r="1.95" fill="#23252c"/>
<line x1="722.5" y1="756.5" x2="738.5" y2="756.5" stroke="#4a4b50" stroke-width="1"/>
<circle cx="726.5" cy="756.5" r="1.95" fill="#23252c"/>
<g transform="translate(727.6,606.9) rotate(-90)"><rect x="-17.0" y="-7.5" width="34.0" height="15.0" fill="#fff"/><path d="M -10.01,6.48 L -10.01,-5.91 M -9.41,-5.71 L -13.61,-2.07" stroke="#262a36" stroke-width="1.94" fill="none"/><text class="n" x="0.00" y="6.5" transform="scale(0.9,1)" text-anchor="middle" font-size="18">0</text><text class="n" x="11.12" y="6.5" transform="scale(0.9,1)" text-anchor="middle" font-size="18">0</text></g>
<g transform="translate(727.4,688.3) rotate(-90)"><rect x="-17.0" y="-7.5" width="34.0" height="15.0" fill="#fff"/><text class="n" x="-11.12" y="6.5" transform="scale(0.9,1)" text-anchor="middle" font-size="18">3</text><text class="n" x="0.00" y="6.5" transform="scale(0.9,1)" text-anchor="middle" font-size="18">3</text><text class="n" x="11.12" y="6.5" transform="scale(0.9,1)" text-anchor="middle" font-size="18">0</text></g>
<line x1="948.5" y1="583.5" x2="948.5" y2="760.5" stroke="#6b6b6e" stroke-width="1"/>
<line x1="936.5" y1="587.5" x2="952.5" y2="587.5" stroke="#4a4b50" stroke-width="1"/>
<circle cx="948.5" cy="587.5" r="1.95" fill="#23252c"/>
<line x1="936.5" y1="612.5" x2="952.5" y2="612.5" stroke="#4a4b50" stroke-width="1"/>
<circle cx="948.5" cy="612.5" r="1.95" fill="#23252c"/>
<line x1="936.5" y1="666.5" x2="952.5" y2="666.5" stroke="#4a4b50" stroke-width="1"/>
<circle cx="948.5" cy="666.5" r="1.95" fill="#23252c"/>
<line x1="936.5" y1="756.5" x2="952.5" y2="756.5" stroke="#4a4b50" stroke-width="1"/>
<circle cx="948.5" cy="756.5" r="1.95" fill="#23252c"/>
<g transform="translate(960,599.8) rotate(-90)"><text class="n" x="-5.56" y="6.5" transform="scale(0.9,1)" text-anchor="middle" font-size="18">6</text><text class="n" x="5.56" y="6.5" transform="scale(0.9,1)" text-anchor="middle" font-size="18">5</text></g>
<g transform="translate(948.9,639.2) rotate(-90)"><rect x="-17.0" y="-7.5" width="34.0" height="15.0" fill="#fff"/><path d="M -10.01,6.48 L -10.01,-5.91 M -9.41,-5.71 L -13.61,-2.07" stroke="#262a36" stroke-width="1.94" fill="none"/><text class="n" x="0.00" y="6.5" transform="scale(0.9,1)" text-anchor="middle" font-size="18">3</text><text class="n" x="11.12" y="6.5" transform="scale(0.9,1)" text-anchor="middle" font-size="18">5</text></g>
<g transform="translate(947.6,709.5) rotate(-90)"><rect x="-17.0" y="-7.5" width="34.0" height="15.0" fill="#fff"/><text class="n" x="-11.12" y="6.5" transform="scale(0.9,1)" text-anchor="middle" font-size="18">2</text><text class="n" x="0.00" y="6.5" transform="scale(0.9,1)" text-anchor="middle" font-size="18">3</text><text class="n" x="11.12" y="6.5" transform="scale(0.9,1)" text-anchor="middle" font-size="18">0</text></g>
<line x1="981.5" y1="608.5" x2="981.5" y2="760.5" stroke="#6b6b6e" stroke-width="1"/>
<line x1="969.5" y1="612.5" x2="985.5" y2="612.5" stroke="#4a4b50" stroke-width="1"/>
<circle cx="981.5" cy="612.5" r="1.95" fill="#23252c"/>
<line x1="969.5" y1="756.5" x2="985.5" y2="756.5" stroke="#4a4b50" stroke-width="1"/>
<circle cx="981.5" cy="756.5" r="1.95" fill="#23252c"/>
<g transform="translate(980.2,685.6) rotate(-90)"><rect x="-17.0" y="-7.5" width="34.0" height="15.0" fill="#fff"/><text class="n" x="-11.12" y="6.5" transform="scale(0.9,1)" text-anchor="middle" font-size="18">3</text><text class="n" x="0.00" y="6.5" transform="scale(0.9,1)" text-anchor="middle" font-size="18">6</text><text class="n" x="11.12" y="6.5" transform="scale(0.9,1)" text-anchor="middle" font-size="18">5</text></g>
<line x1="916.5" y1="709.5" x2="916.5" y2="760.5" stroke="#6b6b6e" stroke-width="1"/>
<line x1="904.5" y1="713.5" x2="920.5" y2="713.5" stroke="#4a4b50" stroke-width="1"/>
<circle cx="916.5" cy="713.5" r="1.95" fill="#23252c"/>
<line x1="904.5" y1="756.5" x2="920.5" y2="756.5" stroke="#4a4b50" stroke-width="1"/>
<circle cx="916.5" cy="756.5" r="1.95" fill="#23252c"/>
<g transform="translate(915.6,734.6) rotate(-90)"><rect x="-17.0" y="-7.5" width="34.0" height="15.0" fill="#fff"/><path d="M -10.01,6.48 L -10.01,-5.91 M -9.41,-5.71 L -13.61,-2.07" stroke="#262a36" stroke-width="1.94" fill="none"/><text class="n" x="0.00" y="6.5" transform="scale(0.9,1)" text-anchor="middle" font-size="18">0</text><text class="n" x="11.12" y="6.5" transform="scale(0.9,1)" text-anchor="middle" font-size="18">0</text></g>
<rect x="766.5" y="757.9" width="143" height="3.8" fill="#2a2c33"/>
<path d="M 768.5,587.9 L 906,587.9 Q 908.5,587.9 909,590.5 C 911,600 912.2,612 912.2,624 C 912.2,638 911.5,650 910.3,658.5 L 764.7,658.5 C 763.5,650 762.9,638 762.9,624 C 762.9,612 764,600 766,590.5 Q 766.5,587.9 768.5,587.9 Z" fill="none" stroke="#2a2c33" stroke-width="1.2"/>
<path d="M 782.4,587.9 L 782.4,658.5 M 893.5,587.9 L 893.5,658.5" fill="none" stroke="#2a2c33" stroke-width="1.2"/>
<path d="M 772.6,658.5 L 772.6,671 C 772.6,678 776,682 782,682 L 894,682 C 900,682 903.2,678 903.2,671 L 903.2,658.5" fill="none" stroke="#2a2c33" stroke-width="1.2"/>
<path d="M 787.6,652.3 L 787.6,593.2 L 888.2,593.2 L 888.2,652.3" fill="none" stroke="#4a4b50" stroke-width="1"/>
<path d="M 787.6,601.2 L 820,601.2 Q 823,601.2 824,604 M 851.5,604 Q 852.5,601.2 855.5,601.2 L 888.2,601.2 M 787.6,612.6 L 824,612.6 M 851.5,612.6 L 888.2,612.6" fill="none" stroke="#4a4b50" stroke-width="1"/>
<path d="M 825.6,606 L 825.6,633.5 M 850.2,606 L 850.2,633.5 M 821.2,601.2 L 821.2,612.6 M 854.7,601.2 L 854.7,612.6" fill="none" stroke="#4a4b50" stroke-width="1"/>
<path d="M 788.5,640 L 799.1,640 L 799.1,652.3 L 788.5,652.3 M 887.3,640 L 876.8,640 L 876.8,652.3 L 887.3,652.3" fill="none" stroke="#4a4b50" stroke-width="1"/>
<path d="M 793,652.3 C 794,665 797,676 803.5,682 M 796,652.3 C 797,664 800,674 806,681 M 882.8,652.3 C 881.8,665 878.8,676 872.3,682 M 879.8,652.3 C 878.8,664 875.8,674 869.8,681" fill="none" stroke="#4a4b50" stroke-width="1"/>
<path d="M 804.4,682 L 805.5,648 C 806,642 812,640.5 815,642 C 818.5,644 818.5,648 818.5,652 M 871.4,682 L 870.3,648 C 869.8,642 863.8,640.5 860.8,642 C 857.3,644 857.3,648 857.3,652" fill="none" stroke="#2a2c33" stroke-width="1.2"/>
<path d="M 810,641 C 815,636 826,632.9 837.9,632.9 C 849.8,632.9 860.8,636 865.8,641" fill="none" stroke="#2a2c33" stroke-width="1.2"/>
<path d="M 818.5,672 L 818.5,695 C 818.5,706 827,714.1 837.9,714.1 C 848.8,714.1 857.3,706 857.3,695 L 857.3,672" fill="none" stroke="#2a2c33" stroke-width="1.2"/>
<circle cx="837.9" cy="662.9" r="19.4" fill="#fff" stroke="#2a2c33" stroke-width="1.1"/>
<circle cx="837.9" cy="662.9" r="16.3" fill="none" stroke="#2a2c33" stroke-width="1.8"/>
<circle cx="837.9" cy="613.5" r="13.2" fill="#fff" stroke="#2a2c33" stroke-width="1"/>
<circle cx="837.9" cy="613.5" r="11.9" fill="none" stroke="#2a2c33" stroke-width="0.8"/>
<circle cx="837.9" cy="613.5" r="9.7" fill="none" stroke="#2a2c33" stroke-width="1.6"/>
<path d="M 828.8,614.4 L 847,614.4" stroke="#2a2c33" stroke-width="1.2"/>
<circle cx="802.3" cy="626.2" r="10.9" fill="#fff" stroke="#2a2c33" stroke-width="1"/>
<circle cx="802.3" cy="626.2" r="8.8" fill="none" stroke="#2a2c33" stroke-width="0.9"/>
<circle cx="802.3" cy="626.2" r="6.2" fill="none" stroke="#2a2c33" stroke-width="1.6"/>
<circle cx="873.6" cy="626.2" r="10.9" fill="#fff" stroke="#2a2c33" stroke-width="1"/>
<circle cx="873.6" cy="626.2" r="8.8" fill="none" stroke="#2a2c33" stroke-width="0.9"/>
<circle cx="873.6" cy="626.2" r="6.2" fill="none" stroke="#2a2c33" stroke-width="1.6"/>
<path d="M 774.6,576.1 L 837.6,611.4" fill="none" stroke="#4a4b50" stroke-width="0.9"/>
<path d="M 897.5,577.7 L 839,666" fill="none" stroke="#4a4b50" stroke-width="0.9"/>
<line x1="659" y1="531.1" x2="795.5" y2="620.3" stroke="#3a3d45" stroke-width="0.9"/>
</svg></body></html>
